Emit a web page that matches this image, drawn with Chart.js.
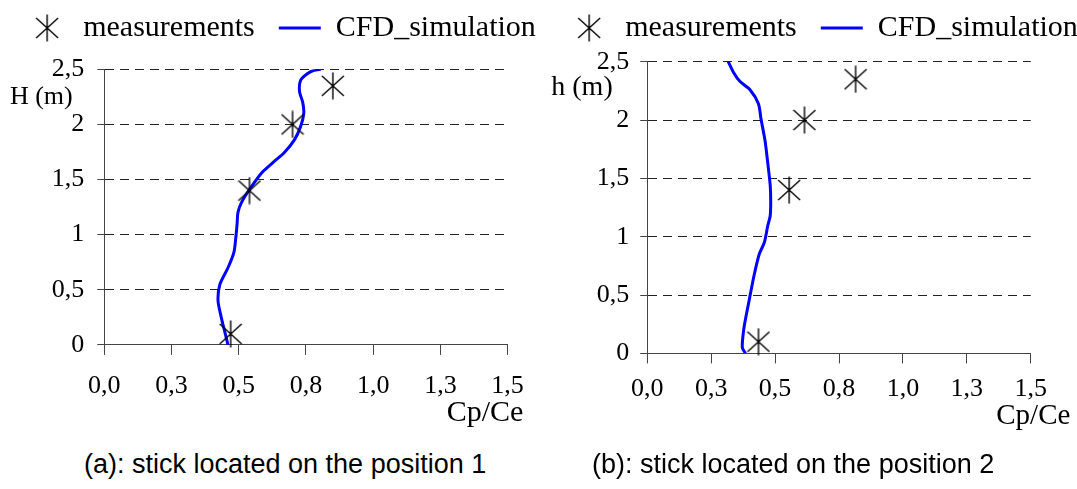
<!DOCTYPE html>
<html>
<head>
<meta charset="utf-8">
<script src="https://cdn.jsdelivr.net/npm/chart.js@4.4.1/dist/chart.umd.min.js"></script>
<style>
  html, body { margin: 0; padding: 0; background: #fff; }
  body { width: 1077px; height: 489px; position: relative; overflow: hidden; }
  canvas { position: absolute; }
  #chartA { left: -9px; top: -11px; }
  #chartB { left: 533px; top: -11px; }
  .caption { position: absolute; top: 451px; font: 27px "Liberation Sans", Arial, sans-serif; line-height: 27px; white-space: nowrap; color: #000; }
</style>
</head>
<body>
<canvas id="chartA" width="580" height="460"></canvas>
<canvas id="chartB" width="580" height="460"></canvas>
<div class="caption" style="left:84px">(a): stick located on the position 1</div>
<div class="caption" style="left:592px">(b): stick located on the position 2</div>
<script>
const measuredHeight = [0.1, 1.4, 2.0, 2.35];
const measuredCpA = [0.47, 0.54, 0.70, 0.85];
const measuredCpB = [0.435, 0.555, 0.615, 0.815];

// CFD profiles, bottom to top
const cfdHeightA = [0, 0.1, 0.25, 0.4, 0.55, 0.7, 0.84, 0.97, 1.1, 1.2, 1.29, 1.41, 1.56, 1.66, 1.74, 1.86, 1.98, 2.1, 2.2, 2.3, 2.4, 2.46, 2.49, 2.5];
const cfdCpA = [0.46, 0.45, 0.435, 0.423, 0.43, 0.46, 0.482, 0.489, 0.494, 0.497, 0.51, 0.54, 0.585, 0.63, 0.668, 0.707, 0.73, 0.742, 0.738, 0.726, 0.73, 0.755, 0.78, 0.805];
const cfdHeightB = [0, 0.05, 0.18, 0.29, 0.47, 0.67, 0.85, 0.95, 1.09, 1.18, 1.3, 1.44, 1.64, 1.82, 2.01, 2.14, 2.26, 2.33, 2.41, 2.5];
const cfdCpB = [0.384, 0.372, 0.376, 0.384, 0.40, 0.418, 0.438, 0.458, 0.471, 0.481, 0.483, 0.481, 0.471, 0.461, 0.445, 0.435, 0.402, 0.363, 0.337, 0.317];

const xTickLabels = ['0,0', '0,3', '0,5', '0,8', '1,0', '1,3', '1,5'];
const yTickLabels = ['0', '0,5', '1', '1,5', '2', '2,5'];
const seriesNames = ['measurements', 'CFD_simulation'];

function toPoints(xs, ys) {
    return xs.map(function(x, i) { return { x: x, y: ys[i] }; });
}

// asterisk marker: an X with a vertical bar through it
function makeStar() {
    const c = document.createElement('canvas');
    c.width = 24;
    c.height = 28;
    const g = c.getContext('2d');
    g.strokeStyle = '#000';
    g.lineWidth = 1.4;
    g.beginPath();
    g.moveTo(12, 0.5); g.lineTo(12, 27.5);
    g.moveTo(1, 4); g.lineTo(23, 24);
    g.moveTo(23, 4); g.lineTo(1, 24);
    g.stroke();
    return c;
}
const star = makeStar();

const tickFont = { family: '"Liberation Serif", "Times New Roman", serif', size: 26 };

Chart.defaults.font.family = '"Liberation Serif", "Times New Roman", serif';
Chart.defaults.color = '#000';

// horizontal axis titles placed next to the plot area
const axisTitles = {
    id: 'axisTitles',
    afterDraw(chart, args, opts) {
        const ctx = chart.ctx;
        const area = chart.chartArea;
        ctx.save();
        ctx.fillStyle = '#000';
        ctx.textAlign = 'center';
        ctx.textBaseline = 'middle';
        opts.items.forEach(function(t) {
            ctx.font = t.size + 'px "Liberation Serif", "Times New Roman", serif';
            const x = (t.from === 'left' ? area.left : area.right) + t.dx;
            const y = (t.anchor === 'top' ? area.top : area.bottom) + t.dy;
            ctx.fillText(t.text, x, y);
        });
        ctx.restore();
    }
};

function buildChart(id, cfg) {
    return new Chart(document.getElementById(id), {
        type: 'scatter',
        data: {
            datasets: [{
                label: seriesNames[0],
                data: toPoints(cfg.measuredCp, measuredHeight),
                pointStyle: star,
                borderColor: '#000',
                backgroundColor: '#000',
                clip: false
            }, {
                label: seriesNames[1],
                data: toPoints(cfg.cfdCp, cfg.cfdHeight),
                showLine: true,
                pointRadius: 0,
                pointStyle: 'line',
                borderColor: '#0000ff',
                backgroundColor: '#0000ff',
                borderWidth: 3,
                tension: 0.25
            }]
        },
        options: {
            responsive: false,
            animation: false,
            events: [],
            layout: { padding: 0 },
            plugins: {
                legend: {
                    weight: 3000,
                    labels: {
                        usePointStyle: true,
                        pointStyleWidth: 42,
                        padding: 24,
                        color: '#000',
                        font: { size: 30 }
                    }
                },
                // empty title used as a gap between legend and plot
                title: {
                    display: true,
                    text: '',
                    padding: { top: cfg.gap, bottom: 0 },
                    font: { size: 1, lineHeight: '0px' }
                },
                tooltip: { enabled: false },
                axisTitles: { items: cfg.titles }
            },
            scales: {
                x: {
                    type: 'linear',
                    min: 0,
                    max: 1.5,
                    afterFit: function(s) { s.height = cfg.xHeight; s.paddingRight = cfg.rightPad; },
                    ticks: {
                        stepSize: 0.25,
                        autoSkip: false,
                        maxRotation: 0,
                        padding: cfg.xTickPad,
                        color: '#000',
                        font: tickFont,
                        callback: function(v, i) { return xTickLabels[i]; }
                    },
                    grid: { drawOnChartArea: false, tickLength: 10, tickColor: '#444', color: '#444' },
                    border: { color: '#444', width: 1 }
                },
                y: {
                    min: 0,
                    max: 2.5,
                    afterFit: function(s) { s.width = cfg.yWidth; },
                    ticks: {
                        stepSize: 0.5,
                        padding: cfg.yTickPad,
                        color: '#000',
                        font: tickFont,
                        callback: function(v, i) { return yTickLabels[i]; }
                    },
                    grid: { color: '#222', lineWidth: 1, tickLength: 7, tickColor: '#444', tickBorderDash: [] },
                    border: { color: '#444', width: 1, dash: [9, 6] }
                }
            }
        },
        plugins: [axisTitles]
    });
}

buildChart('chartA', {
    measuredCp: measuredCpA,
    cfdCp: cfdCpA,
    cfdHeight: cfdHeightA,
    yWidth: 113.3,
    gap: 16.3,
    xHeight: 104.1,
    rightPad: 63.4,
    xTickPad: 16,
    yTickPad: 13,
    titles: [
        { text: 'H (m)', size: 26, from: 'left', dx: -63, anchor: 'top', dy: 28 },
        { text: 'Cp/Ce', size: 30, from: 'right', dx: -22.6, anchor: 'bottom', dy: 68 }
    ]
});

buildChart('chartB', {
    measuredCp: measuredCpB,
    cfdCp: cfdCpB,
    cfdHeight: cfdHeightB,
    yWidth: 114.2,
    gap: 8.7,
    xHeight: 95.6,
    rightPad: 82.2,
    xTickPad: 10,
    yTickPad: 11,
    titles: [
        { text: 'h (m)', size: 28, from: 'left', dx: -65.2, anchor: 'top', dy: 26.3 },
        { text: 'Cp/Ce', size: 29, from: 'right', dx: 2.5, anchor: 'bottom', dy: 62.6 }
    ]
});
</script>
</body>
</html>
